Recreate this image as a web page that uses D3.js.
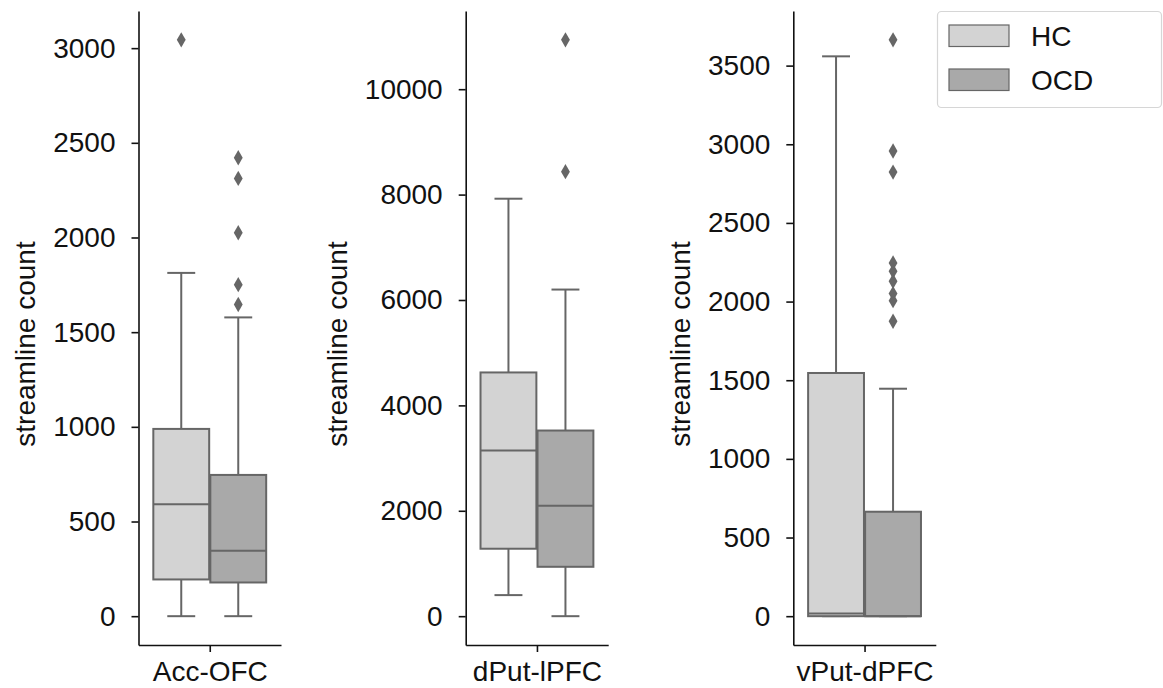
<!DOCTYPE html>
<html>
<head>
<meta charset="utf-8">
<script src="https://cdn.jsdelivr.net/npm/d3@7"></script>
<style>
  body { margin: 0; background: #fff; }
  svg { display: block; font-family: "Liberation Sans", Arial, sans-serif; }
</style>
</head>
<body>
<svg id="chart" width="1163" height="688"></svg>
<script>
// data
var regions = ["Acc-OFC", "dPut-lPFC", "vPut-dPFC"];
var groups = ["HC", "OCD"];

// box stats per region: [lower whisker, q1, median, q3, upper whisker]
var hcStats = [
    [0, 194, 591, 989, 1813],
    [400, 1280, 3143, 4625, 7922],
    [0, 0, 17, 1546, 3559]
];
var ocdStats = [
    [0, 178, 345, 746, 1578],
    [0, 937, 2097, 3523, 6198],
    [0, 0, 0, 664, 1446]
];
var hcOutliers = [[3044], [], []];
var ocdOutliers = [
    [2421, 2312, 2025, 1751, 1646],
    [10937, 8435],
    [3664, 2957, 2823, 2246, 2193, 2129, 2051, 2006, 1875]
];
var yTicks = [
    [0, 500, 1000, 1500, 2000, 2500, 3000],
    [0, 2000, 4000, 6000, 8000, 10000],
    [0, 500, 1000, 1500, 2000, 2500, 3000, 3500]
];

var colors = { HC: "#d3d3d3", OCD: "#a9a9a9" };
var lineColor = "#666666";
var fontSize = 28;

var svg = d3.select("svg#chart");
var axLeft = [138.5, 465.7, 793.3];
var axWidth = 142.5;
var plotTop = 11, plotBottom = 645;

regions.forEach(function(region, i) {
    var stats = { HC: hcStats[i], OCD: ocdStats[i] };
    var outliers = { HC: hcOutliers[i], OCD: ocdOutliers[i] };

    var all = [].concat(hcStats[i], ocdStats[i], hcOutliers[i], ocdOutliers[i]);
    var lo = d3.min(all), hi = d3.max(all);
    var pad = (hi - lo) * 0.05;

    var x = d3.scaleLinear().domain([-0.5, 0.5]).range([axLeft[i], axLeft[i] + axWidth]);
    var y = d3.scaleLinear().domain([lo - pad, hi + pad]).range([plotBottom, plotTop]);
    var offset = d3.scaleOrdinal().domain(groups).range([-0.2, 0.2]);
    var boxW = 0.392;

    var g = svg.append("g");

    groups.forEach(function(grp) {
        var s = stats[grp];
        var cx = offset(grp);
        var gg = g.append("g");

        // whiskers
        gg.append("line")
            .attr("x1", x(cx)).attr("x2", x(cx))
            .attr("y1", y(s[0])).attr("y2", y(s[1]))
            .attr("stroke", lineColor).attr("stroke-width", 2);
        gg.append("line")
            .attr("x1", x(cx)).attr("x2", x(cx))
            .attr("y1", y(s[3])).attr("y2", y(s[4]))
            .attr("stroke", lineColor).attr("stroke-width", 2);
        // caps
        [s[0], s[4]].forEach(function(v) {
            gg.append("line")
                .attr("x1", x(cx - boxW / 4)).attr("x2", x(cx + boxW / 4))
                .attr("y1", y(v)).attr("y2", y(v))
                .attr("stroke", lineColor).attr("stroke-width", 2);
        });
        // box
        gg.append("rect")
            .attr("x", x(cx - boxW / 2))
            .attr("y", y(s[3]))
            .attr("width", x(cx + boxW / 2) - x(cx - boxW / 2))
            .attr("height", Math.max(y(s[1]) - y(s[3]), 0))
            .attr("fill", colors[grp])
            .attr("stroke", lineColor).attr("stroke-width", 2);
        // median
        gg.append("line")
            .attr("x1", x(cx - boxW / 2)).attr("x2", x(cx + boxW / 2))
            .attr("y1", y(s[2])).attr("y2", y(s[2]))
            .attr("stroke", lineColor).attr("stroke-width", 2);
        // outliers
        gg.selectAll("path.flier")
            .data(outliers[grp])
            .enter().append("path")
            .attr("class", "flier")
            .attr("transform", function(d) { return "translate(" + x(cx) + "," + y(d) + ")"; })
            .attr("d", d3.symbol().type(d3.symbolDiamond).size(68))
            .attr("fill", lineColor);
    });

    // Y axis
    var yAxis = g.append("g")
        .attr("transform", "translate(" + axLeft[i] + ",0)")
        .call(d3.axisLeft(y).tickValues(yTicks[i]).tickFormat(d3.format("d")).tickSize(7).tickSizeOuter(0).tickPadding(16));
    yAxis.attr("font-family", null).attr("font-size", null);
    yAxis.selectAll("text").attr("font-size", fontSize).attr("fill", "#111");
    yAxis.selectAll("line, path").attr("stroke", "#111").attr("stroke-width", 1.6);

    // X axis
    var xAxis = g.append("g")
        .attr("transform", "translate(0," + plotBottom + ")")
        .call(d3.axisBottom(x).tickValues([0]).tickFormat(function() { return region; }).tickSize(7).tickSizeOuter(0).tickPadding(9));
    xAxis.attr("font-family", null).attr("font-size", null);
    xAxis.selectAll("text").attr("font-size", fontSize).attr("fill", "#111");
    xAxis.selectAll("line, path").attr("stroke", "#111").attr("stroke-width", 1.6);

    // Y label
    var maxW = d3.max(yAxis.selectAll("text").nodes(), function(n) { return n.getBBox().width; });
    var lx = axLeft[i] - 23 - maxW - 18;
    g.append("text")
        .attr("transform", "translate(" + lx + ",344) rotate(-90)")
        .attr("text-anchor", "middle")
        .attr("font-size", fontSize)
        .attr("fill", "#111")
        .text("streamline count");
});

// Legend
var legend = svg.append("g");
legend.append("rect")
    .attr("x", 937.5).attr("y", 11.5)
    .attr("width", 224).attr("height", 96)
    .attr("rx", 4)
    .attr("fill", "#fff").attr("fill-opacity", 0.8)
    .attr("stroke", "#d6d6d6").attr("stroke-width", 1.2);
groups.forEach(function(grp, k) {
    var ly = 25 + k * 44;
    legend.append("rect")
        .attr("x", 949).attr("y", ly)
        .attr("width", 60).attr("height", 21.5)
        .attr("fill", colors[grp])
        .attr("stroke", lineColor).attr("stroke-width", 1.2);
    legend.append("text")
        .attr("x", 1031).attr("y", ly + 21)
        .attr("font-size", fontSize)
        .attr("fill", "#111")
        .text(grp);
});
</script>
</body>
</html>
